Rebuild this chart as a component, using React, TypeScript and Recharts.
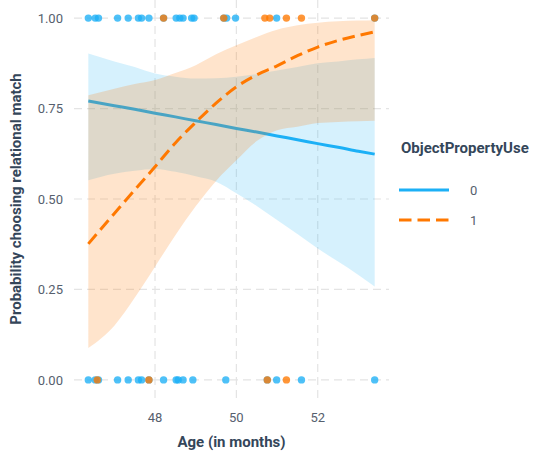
import React from 'react';
import { ComposedChart, Area, Line, Scatter, XAxis, YAxis, CartesianGrid, Legend } from 'recharts';

const ages = [46.36, 47, 47.5, 48, 48.5, 49, 49.5, 50, 50.5, 51, 51.5, 52, 52.5, 53, 53.4];
const fit0 = [0.771, 0.758, 0.748, 0.737, 0.727, 0.716, 0.706, 0.695, 0.685, 0.674, 0.664, 0.653, 0.643, 0.632, 0.624];
const lower0 = [0.552, 0.57, 0.578, 0.583, 0.575, 0.563, 0.548, 0.516, 0.481, 0.442, 0.403, 0.363, 0.327, 0.29, 0.258];
const upper0 = [0.902, 0.88, 0.865, 0.847, 0.838, 0.833, 0.834, 0.838, 0.845, 0.855, 0.865, 0.875, 0.88, 0.886, 0.89];
const fit1 = [0.376, 0.46, 0.525, 0.589, 0.655, 0.712, 0.765, 0.81, 0.843, 0.868, 0.896, 0.92, 0.938, 0.952, 0.962];
const lower1 = [0.088, 0.15, 0.227, 0.313, 0.4, 0.48, 0.55, 0.607, 0.66, 0.69, 0.7, 0.71, 0.713, 0.715, 0.716];
const upper1 = [0.787, 0.805, 0.818, 0.829, 0.848, 0.87, 0.9, 0.925, 0.948, 0.968, 0.98, 0.987, 0.991, 0.993, 0.994];

// raw observations (age at which child chose 1 = relational, 0 = not)
const chose1Group0 = [46.36, 46.53, 46.61, 47.08, 47.34, 47.59, 47.67, 47.85, 48.21, 48.52, 48.61, 48.69, 48.9, 48.96, 49.69, 49.76, 49.98, 50.99, 53.4];
const chose1Group1 = [48.21, 49.69, 50.7, 50.82, 51.23, 51.6, 53.4];
const chose0Group0 = [46.36, 46.53, 46.61, 47.08, 47.34, 47.59, 47.67, 47.85, 48.21, 48.52, 48.57, 48.69, 48.93, 49.74, 50.76, 50.99, 51.6, 53.4];
const chose0Group1 = [46.58, 47.85, 50.76, 51.23];

const groups = ['0', '1'];
const xTicks = [48, 50, 52];
const yTicks = [0, 0.25, 0.5, 0.75, 1];
const xDomain = [46.008, 53.752];
const yDomain = [-0.05, 1.05];

const BLUE = '#1CB0F6';
const ORANGE = '#FF7800';
const TEXT = '#56606E';
const TITLE = '#34465A';
const GRID = '#E4E4E4';

const chartData = ages.map((age, i) => ({
  age,
  fit0: fit0[i],
  band0: [lower0[i], upper0[i]],
  fit1: fit1[i],
  band1: [lower1[i], upper1[i]],
}));

const toPoints = (ones: number[], zeros: number[]) => [
  ...zeros.map((age) => ({ age, y: 0 })),
  ...ones.map((age) => ({ age, y: 1 })),
];
const points0 = toPoints(chose1Group0, chose0Group0);
const points1 = toPoints(chose1Group1, chose0Group1);

// use the axis scale when it is exposed, else map through the plot offset
const project = (axis: any, v: number, lo: number, len: number, domain: number[], flip: boolean) => {
  const s = axis && axis.scale;
  if (typeof s === 'function') return s(v);
  if (s && typeof s.map === 'function') return s.map(v);
  const f = (v - domain[0]) / (domain[1] - domain[0]);
  return flip ? lo + len * (1 - f) : lo + len * f;
};

const dot = (color: string) => (p: any) => (
  <circle cx={p.cx} cy={p.cy} r={3.7} fill={color} fillOpacity={0.78} />
);

const LegendBox = () => (
  <svg width={146} height={110} style={{ overflow: 'visible' }}>
    <text x={2} y={23} fontSize={15} fontWeight={700} fill={TITLE}>ObjectPropertyUse</text>
    {groups.map((g, i) => (
      <g key={g}>
        <line
          x1={0}
          x2={50}
          y1={60 + i * 30}
          y2={60 + i * 30}
          stroke={i === 0 ? BLUE : ORANGE}
          strokeWidth={3}
          strokeDasharray={i === 0 ? undefined : '12.5 6'}
        />
        <text x={71} y={64.6 + i * 30} fontSize={13} fill={TEXT}>{g}</text>
      </g>
    ))}
  </svg>
);

export default function App() {
  return (
    <div style={{ position: 'absolute', left: 0, top: 0, fontFamily: 'Roboto, sans-serif' }}>
      <ComposedChart
        width={545}
        height={451}
        data={chartData}
        margin={{ top: 0, right: 156, bottom: 23, left: 0 }}
      >
        <CartesianGrid
          stroke={GRID}
          strokeDasharray="8 5"
          strokeWidth={1.2}
          horizontalCoordinatesGenerator={({ yAxis, offset }: any) =>
            yTicks.map((t) => project(yAxis, t, offset.top, offset.height, yDomain, true))
          }
          verticalCoordinatesGenerator={({ xAxis, offset }: any) =>
            xTicks.map((t) => project(xAxis, t, offset.left, offset.width, xDomain, false))
          }
        />
        <XAxis
          dataKey="age"
          type="number"
          domain={xDomain}
          ticks={xTicks}
          allowDataOverflow
          height={30}
          axisLine={false}
          tickLine={false}
          tickMargin={8.5}
          tick={{ fill: TEXT, fontSize: 13 }}
          label={{ value: 'Age (in months)', position: 'bottom', offset: 8, fill: TITLE, fontSize: 15, fontWeight: 700 }}
        />
        <YAxis
          type="number"
          domain={yDomain}
          ticks={yTicks}
          allowDataOverflow
          width={74}
          axisLine={false}
          tickLine={false}
          tickMargin={5}
          tick={{ fill: TEXT, fontSize: 13 }}
          tickFormatter={(v: number) => v.toFixed(2)}
          label={{
            value: 'Probability choosing relational match',
            angle: -90,
            position: 'insideLeft',
            offset: 16,
            fill: TITLE,
            fontSize: 15,
            fontWeight: 700,
            style: { textAnchor: 'middle' },
          }}
        />
        <Area
          dataKey="band0"
          type="monotone"
          stroke="none"
          fill={BLUE}
          fillOpacity={0.18}
          legendType="none"
          isAnimationActive={false}
          zIndex={100}
        />
        <Line
          dataKey="fit0"
          type="monotone"
          stroke={BLUE}
          strokeWidth={3}
          dot={false}
          activeDot={false}
          isAnimationActive={false}
          zIndex={110}
        />
        <Area
          dataKey="band1"
          type="monotone"
          stroke="none"
          fill={ORANGE}
          fillOpacity={0.2}
          legendType="none"
          isAnimationActive={false}
          zIndex={120}
        />
        <Line
          dataKey="fit1"
          type="monotone"
          stroke={ORANGE}
          strokeWidth={3}
          strokeDasharray="12.5 6"
          dot={false}
          activeDot={false}
          isAnimationActive={false}
          zIndex={130}
        />
        <Scatter data={points0} dataKey="y" shape={dot(BLUE)} legendType="none" isAnimationActive={false} zIndex={600} />
        <Scatter data={points1} dataKey="y" shape={dot(ORANGE)} legendType="none" isAnimationActive={false} zIndex={610} />
        <Legend
          layout="horizontal"
          verticalAlign="middle"
          align="center"
          content={() => <LegendBox />}
          wrapperStyle={{ left: 399, top: 130, width: 146, height: 110 }}
        />
      </ComposedChart>
    </div>
  );
}
